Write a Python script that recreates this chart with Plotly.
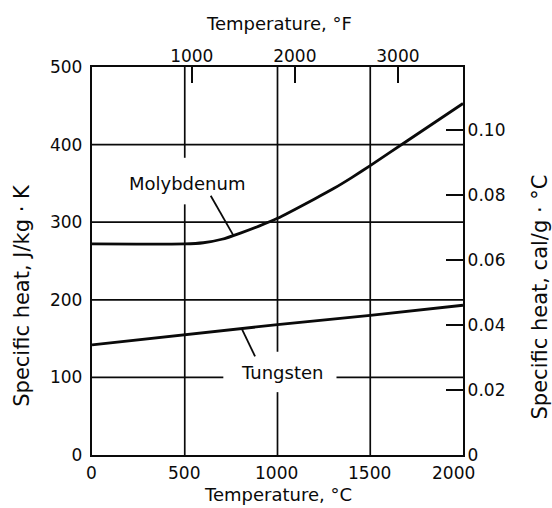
import numpy as np
import plotly.graph_objects as go

# ---- data ----
temp_c = [0, 500, 600, 700, 800, 900, 1000, 1200, 1300, 1400, 1500, 1700, 2000]
molybdenum = [272, 272, 273.5, 278, 286, 295, 305, 330, 343, 357.5, 373, 405, 453]
tungsten_t = [0, 500, 1000, 1500, 2000]
tungsten = [142, 155, 168, 180, 193]

x_ticks_c = [0, 500, 1000, 1500, 2000]
y_ticks_si = [0, 100, 200, 300, 400, 500]
x_ticks_f = [1000, 2000, 3000]
y_ticks_cal = [0, 0.02, 0.04, 0.06, 0.08, 0.10]
y_ticks_cal_text = ["0", "0.02", "0.04", "0.06", "0.08", "0.10"]

J_PER_CAL = 4184.0
FONT = "DejaVu Sans"
INK = "#0a0a0a"

fig = go.Figure()
fig.add_trace(go.Scatter(x=temp_c, y=molybdenum, mode="lines",
                         line=dict(color=INK, width=2.8, shape="spline", smoothing=0.5),
                         hoverinfo="skip", showlegend=False))
fig.add_trace(go.Scatter(x=tungsten_t, y=tungsten, mode="lines",
                         line=dict(color=INK, width=2.8),
                         hoverinfo="skip", showlegend=False))
# invisible trace to activate the secondary (°F, cal/g·°C) axes
fig.add_trace(go.Scatter(x=[t * 9 / 5 + 32 for t in temp_c],
                         y=[v / J_PER_CAL for v in molybdenum],
                         xaxis="x2", yaxis="y2", mode="markers",
                         marker=dict(opacity=0, size=1),
                         hoverinfo="skip", showlegend=False))

# ---- grid lines (with the gaps left for the labels) ----
shapes = []
grid = dict(color=INK, width=1.7)
def seg(x0, y0, x1, y1):
    shapes.append(dict(type="line", xref="x", yref="y", x0=x0, y0=y0, x1=x1, y1=y1,
                       line=grid, layer="below"))
seg(500, 0, 500, 323)
seg(500, 383, 500, 500)
seg(1000, 0, 1000, 81)
seg(1000, 133, 1000, 500)
seg(1500, 0, 1500, 500)
seg(0, 100, 708, 100)
seg(1318, 100, 2000, 100)
for v in (200, 300, 400):
    seg(0, v, 2000, v)

# leader lines
mo_pt = 762
w_pt = 807
shapes.append(dict(type="line", xref="x", yref="y", x0=mo_pt,
                   y0=float(np.interp(mo_pt, temp_c, molybdenum)), x1=640, y1=334,
                   line=dict(color=INK, width=1.8)))
shapes.append(dict(type="line", xref="x", yref="y", x0=w_pt,
                   y0=float(np.interp(w_pt, tungsten_t, tungsten)), x1=879, y1=127,
                   line=dict(color=INK, width=1.8)))

def txt(text, x, y, xref, yref, size, angle=0, **kw):
    d = dict(text=text, x=x, y=y, xref=xref, yref=yref, showarrow=False,
             xanchor="center", yanchor="middle", textangle=angle,
             font=dict(family=FONT, size=size, color=INK))
    d.update(kw)
    return d

annotations = [
    txt("Molybdenum", 513, 350, "x", "y", 18),
    txt("Tungsten", 1024, 106, "x", "y", 18),
    txt("Temperature, °C", 0.5, -0.103, "paper", "paper", 18),
    txt("Temperature, °F", 0.503, 1.113, "paper", "paper", 18),
    txt("Specific heat, J/kg · K", -0.187, 0.412, "paper", "paper", 21, -90),
    txt("Specific heat, cal/g · °C", 1.207, 0.408, "paper", "paper", 21, -90),
]
# bottom (°C) tick labels; the last one is nudged left as in the original
for t in x_ticks_c:
    annotations.append(txt(str(t), t, 0, "x", "paper", 17,
                           yanchor="top", yshift=-6,
                           xshift=(-10 if t == x_ticks_c[-1] else -1)))

tickfont = dict(family=FONT, size=17, color=INK)
fig.update_layout(
    width=552, height=508,
    margin=dict(l=92, r=89, t=67, b=53, pad=0, autoexpand=False),
    paper_bgcolor="white", plot_bgcolor="white",
    font=dict(family=FONT, color=INK),
    xaxis=dict(range=[0, 2000], tickvals=x_ticks_c, ticks="", showgrid=False,
               showticklabels=False,
               zeroline=False, showline=True, linewidth=2.2, linecolor=INK,
               automargin=False),
    yaxis=dict(range=[0, 500], tickvals=y_ticks_si, ticks="", showgrid=False,
               zeroline=False, showline=True, linewidth=2.2, linecolor=INK,
               tickfont=tickfont, ticklabelstandoff=4, automargin=False),
    xaxis2=dict(overlaying="x", side="top", range=[32, 3632], tickvals=x_ticks_f,
                ticks="inside", ticklen=16, tickwidth=2, tickcolor=INK,
                showgrid=False, zeroline=False, showline=True, linewidth=2.2,
                linecolor=INK, tickfont=tickfont, ticklabelstandoff=-4,
                automargin=False),
    yaxis2=dict(overlaying="y", side="right", range=[0, 500 / J_PER_CAL],
                tickvals=y_ticks_cal, ticktext=y_ticks_cal_text,
                ticks="inside", ticklen=17, tickwidth=2, tickcolor=INK,
                showgrid=False, zeroline=False, showline=True, linewidth=2.2,
                linecolor=INK, tickfont=tickfont, ticklabelstandoff=-1,
                automargin=False),
    shapes=shapes, annotations=annotations,
)

fig.write_html("out.html", config={"displayModeBar": False, "staticPlot": True},
               post_script="document.body.style.margin='0';document.body.style.overflow='hidden';")
